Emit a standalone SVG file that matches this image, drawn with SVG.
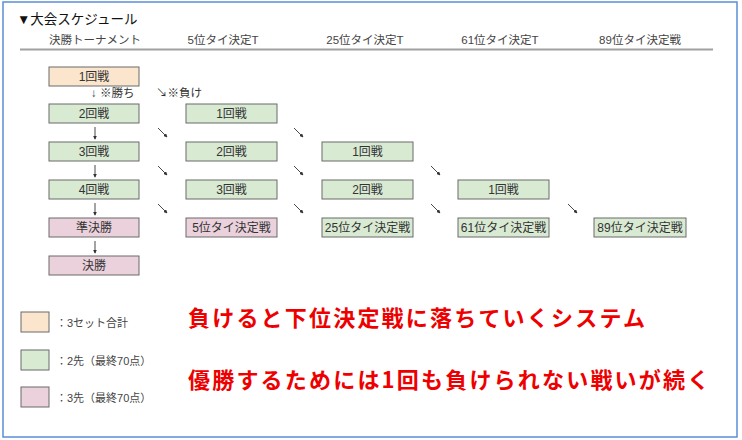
<svg xmlns="http://www.w3.org/2000/svg" width="742" height="440" viewBox="0 0 742 440">
  <style>
    text { font-family: "Liberation Sans", "Noto Sans CJK JP", sans-serif; fill: #333; }
    .title { font-size: 13.5px; fill: #111; }
    .hdr { font-size: 11.5px; text-anchor: middle; fill: #444; }
    .box { stroke: #6a6a6a; stroke-width: 1; }
    .lbl { font-size: 12px; text-anchor: middle; }
    .peach { fill: #fce5cd; }
    .green { fill: #d9ead3; }
    .pink { fill: #ead1dc; }
    .note { font-size: 11.5px; fill: #333; }
    .leg { font-size: 11px; fill: #444; }
    .arr { stroke: #333; stroke-width: 0.9; fill: none; marker-end: url(#ah); }
    .red { font-size: 22px; font-weight: bold; fill: #ee0000; letter-spacing: 2.2px; font-family: "Noto Sans CJK JP", sans-serif; }
  </style>
  <defs>
    <marker id="ah" viewBox="0 0 6 6" refX="5" refY="3" markerWidth="4" markerHeight="4" markerUnits="userSpaceOnUse" orient="auto">
      <path d="M0,0 L6,3 L0,6 z" fill="#333"/>
    </marker>
  </defs>
  <rect x="0" y="0" width="742" height="440" fill="#fff"/>
  <rect x="3" y="2" width="734" height="435" fill="#fff" stroke="#5b8fd6" stroke-width="1.5"/>

  <text class="title" x="17" y="24">▼大会スケジュール</text>

  <g id="headers">
    <text class="hdr" x="95" y="44">決勝トーナメント</text>
    <text class="hdr" x="223" y="44">5位タイ決定T</text>
    <text class="hdr" x="365" y="44">25位タイ決定T</text>
    <text class="hdr" x="500" y="44">61位タイ決定T</text>
    <text class="hdr" x="640" y="44">89位タイ決定戦</text>
    <line x1="20" y1="49.5" x2="713" y2="49.5" stroke="#a0a0a0" stroke-width="1.8"/>
  </g>

  <g id="c1r1"><rect class="box peach" x="49" y="67" width="90" height="19"/><text class="lbl" x="94" y="81">1回戦</text></g>
  <g id="c1r2"><rect class="box green" x="49" y="104" width="90" height="19"/><text class="lbl" x="94" y="118">2回戦</text></g>
  <g id="c1r3"><rect class="box green" x="49" y="142" width="90" height="19"/><text class="lbl" x="94" y="156">3回戦</text></g>
  <g id="c1r4"><rect class="box green" x="49" y="180" width="90" height="19"/><text class="lbl" x="94" y="194">4回戦</text></g>
  <g id="c1r5"><rect class="box pink" x="49" y="218" width="90" height="19"/><text class="lbl" x="94" y="232">準決勝</text></g>
  <g id="c1r6"><rect class="box pink" x="49" y="256" width="90" height="19"/><text class="lbl" x="94" y="270">決勝</text></g>

  <g id="c2r1"><rect class="box green" x="186" y="104" width="91" height="19"/><text class="lbl" x="231.5" y="118">1回戦</text></g>
  <g id="c2r2"><rect class="box green" x="186" y="142" width="91" height="19"/><text class="lbl" x="231.5" y="156">2回戦</text></g>
  <g id="c2r3"><rect class="box green" x="186" y="180" width="91" height="19"/><text class="lbl" x="231.5" y="194">3回戦</text></g>
  <g id="c2r4"><rect class="box pink" x="186" y="218" width="91" height="19"/><text class="lbl" x="231.5" y="232">5位タイ決定戦</text></g>

  <g id="c3r1"><rect class="box green" x="322" y="142" width="91" height="19"/><text class="lbl" x="367.5" y="156">1回戦</text></g>
  <g id="c3r2"><rect class="box green" x="322" y="180" width="91" height="19"/><text class="lbl" x="367.5" y="194">2回戦</text></g>
  <g id="c3r3"><rect class="box green" x="322" y="218" width="91" height="19"/><text class="lbl" x="367.5" y="232">25位タイ決定戦</text></g>

  <g id="c4r1"><rect class="box green" x="458" y="180" width="91" height="19"/><text class="lbl" x="503.5" y="194">1回戦</text></g>
  <g id="c4r2"><rect class="box green" x="458" y="218" width="91" height="19"/><text class="lbl" x="503.5" y="232">61位タイ決定戦</text></g>

  <g id="c5r1"><rect class="box green" x="594" y="218" width="92" height="19"/><text class="lbl" x="640" y="232">89位タイ決定戦</text></g>

  <g id="connectors">
    <text class="note" x="91" y="97">↓ ※勝ち</text>
    <text class="note" x="156" y="97">↘※負け</text>
    <line class="arr" x1="95" y1="127" x2="95" y2="139"/>
    <line class="arr" x1="95" y1="165" x2="95" y2="177"/>
    <line class="arr" x1="95" y1="203" x2="95" y2="215"/>
    <line class="arr" x1="95" y1="241" x2="95" y2="253"/>
    <line class="arr" x1="158" y1="128" x2="167" y2="137"/>
    <line class="arr" x1="158" y1="166" x2="167" y2="175"/>
    <line class="arr" x1="158" y1="204" x2="167" y2="213"/>
    <line class="arr" x1="294" y1="128" x2="303" y2="137"/>
    <line class="arr" x1="294" y1="166" x2="303" y2="175"/>
    <line class="arr" x1="294" y1="204" x2="303" y2="213"/>
    <line class="arr" x1="431" y1="166" x2="440" y2="175"/>
    <line class="arr" x1="431" y1="204" x2="440" y2="213"/>
    <line class="arr" x1="568" y1="204" x2="577" y2="213"/>
  </g>

  <g id="legend">
    <rect class="box peach" x="21" y="312" width="28" height="20"/>
    <text class="leg" x="56" y="327">：3セット合計</text>
    <rect class="box green" x="21" y="350" width="28" height="20"/>
    <text class="leg" x="56" y="365">：2先（最終70点）</text>
    <rect class="box pink" x="21" y="387" width="28" height="20"/>
    <text class="leg" x="56" y="402">：3先（最終70点）</text>
  </g>

  <text class="red" x="188" y="326">負けると下位決定戦に落ちていくシステム</text>
  <text class="red" x="188" y="388">優勝するためには1回も負けられない戦いが続く</text>
</svg>
